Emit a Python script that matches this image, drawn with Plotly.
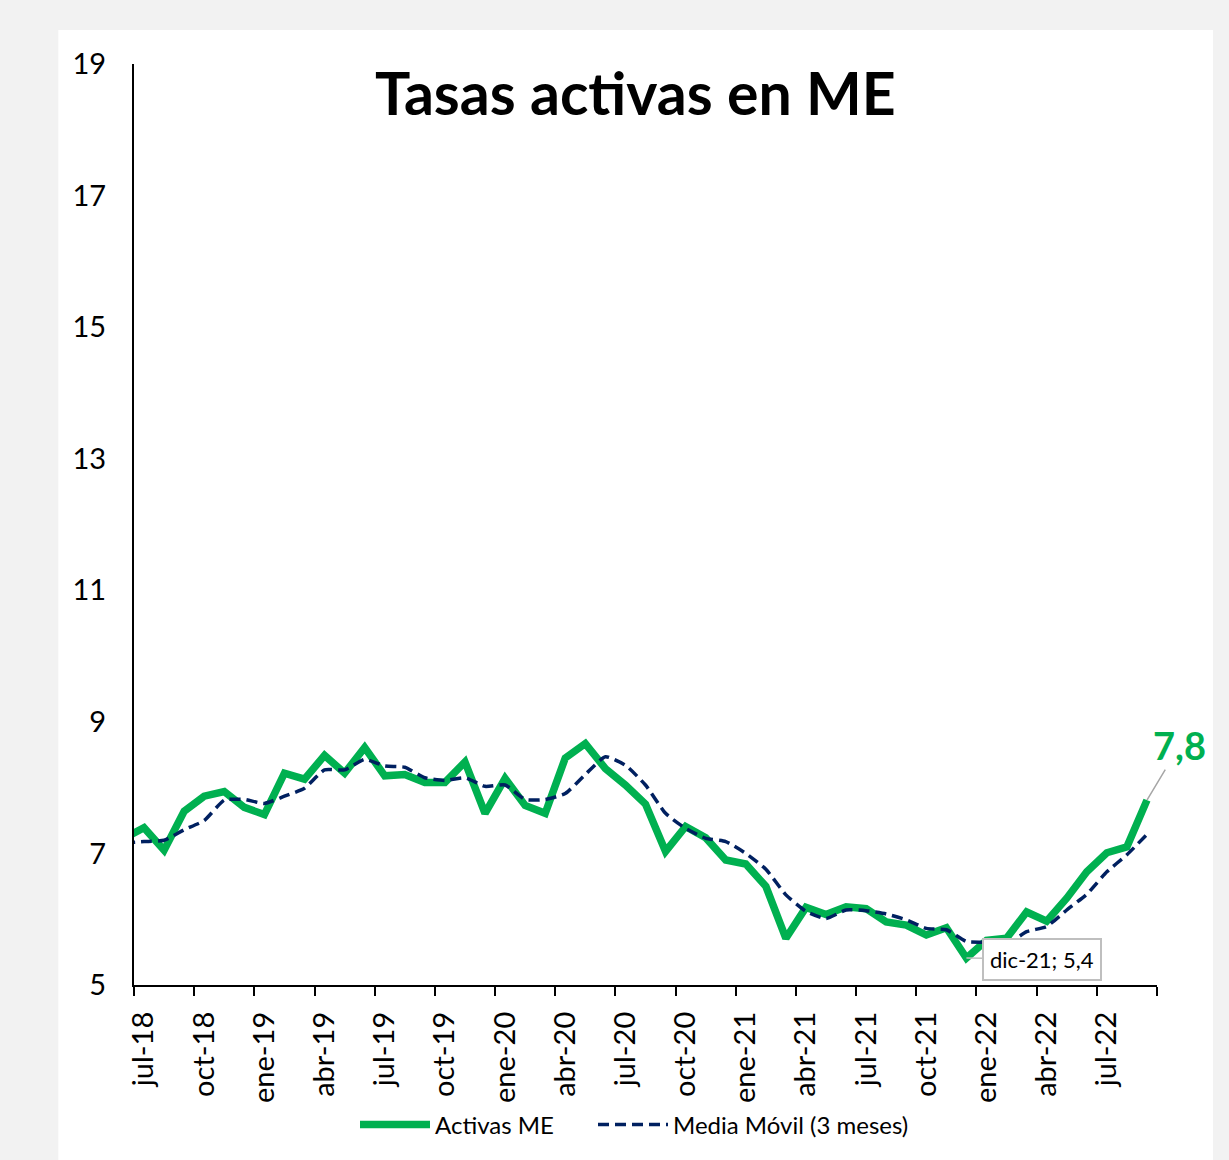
import plotly.graph_objects as go

# ---- data (jun-18 point is only there so the line enters from the axis edge) ----
months = [
    "jun-18",
    "jul-18", "ago-18", "sep-18", "oct-18", "nov-18", "dic-18",
    "ene-19", "feb-19", "mar-19", "abr-19", "may-19", "jun-19", "jul-19", "ago-19", "sep-19", "oct-19", "nov-19", "dic-19",
    "ene-20", "feb-20", "mar-20", "abr-20", "may-20", "jun-20", "jul-20", "ago-20", "sep-20", "oct-20", "nov-20", "dic-20",
    "ene-21", "feb-21", "mar-21", "abr-21", "may-21", "jun-21", "jul-21", "ago-21", "sep-21", "oct-21", "nov-21", "dic-21",
    "ene-22", "feb-22", "mar-22", "abr-22", "may-22", "jun-22", "jul-22", "ago-22", "sep-22",
]
activas_me = [
    7.23,
    7.39, 7.05, 7.64, 7.87, 7.94, 7.70,
    7.59, 8.22, 8.13, 8.49, 8.22, 8.61, 8.18, 8.20, 8.08, 8.08, 8.39, 7.61,
    8.14, 7.73, 7.61, 8.45, 8.67, 8.29, 8.04, 7.75, 7.03, 7.41, 7.24, 6.90,
    6.84, 6.50, 5.71, 6.18, 6.07, 6.19, 6.16, 5.96, 5.91, 5.76, 5.87, 5.41,
    5.68, 5.71, 6.11, 5.97, 6.32, 6.72, 7.01, 7.10, 7.81,
]
media_movil = [
    7.16,
    7.18, 7.20, 7.36, 7.50, 7.81, 7.82,
    7.76, 7.87, 7.99, 8.27, 8.27, 8.43, 8.33, 8.31, 8.15, 8.11, 8.15, 8.02,
    8.04, 7.82, 7.82, 7.91, 8.20, 8.47, 8.34, 8.04, 7.61, 7.38, 7.23, 7.18,
    7.00, 6.76, 6.37, 6.12, 6.01, 6.14, 6.13, 6.08, 5.99, 5.86, 5.84, 5.66,
    5.65, 5.62, 5.81, 5.89, 6.14, 6.38, 6.72, 6.98, 7.29,
]
tick_labels = ["jul-18", "oct-18", "ene-19", "abr-19", "jul-19", "oct-19", "ene-20", "abr-20",
               "jul-20", "oct-20", "ene-21", "abr-21", "jul-21", "oct-21", "ene-22", "abr-22", "jul-22"]
y_ticks = [5, 7, 9, 11, 13, 15, 17, 19]

GREEN = "#00B050"
NAVY = "#002060"
FONT = "Lato"

# month-centre positions: jul-18 centre = 0.5
xpos = [i - 0.5 for i in range(len(months))]
label_pos = [xpos[months.index(m)] for m in tick_labels]
tick_marks = [p - 0.5 for p in label_pos] + [label_pos[-1] + 2.5]
n_end = tick_marks[-1]

fig = go.Figure()
fig.add_trace(go.Scatter(
    x=xpos, y=activas_me, name="Activas ME", mode="lines", legend="legend",
    line=dict(color=GREEN, width=7.5), text=months, hoverinfo="text+y"))
fig.add_trace(go.Scatter(
    x=xpos, y=media_movil, name="Media Móvil (3 meses)", mode="lines", legend="legend2",
    line=dict(color=NAVY, width=3.5, dash="11px,6px", shape="spline", smoothing=0.5),
    text=months, hoverinfo="text+y"))

last_i = len(months) - 1
dic_i = months.index("dic-21")

legend_common = dict(orientation="h", yanchor="middle", y=-0.152, xanchor="left",
                     font=dict(size=24, family=FONT), bgcolor="rgba(0,0,0,0)", itemwidth=70)

fig.update_layout(
    width=1229, height=1160,
    paper_bgcolor="#F2F2F2", plot_bgcolor="white",
    margin=dict(l=134, r=72, t=64, b=173),
    font=dict(family=FONT, color="black"),
    showlegend=True,
    legend=dict(legend_common, x=(355 - 134) / 1023),
    legend2=dict(legend_common, x=(593 - 134) / 1023),
    xaxis=dict(range=[0, n_end], tickmode="array", tickvals=tick_marks, ticktext=[""] * len(tick_marks),
               ticks="outside", ticklen=9, tickwidth=2, tickcolor="black",
               showline=True, linecolor="black", linewidth=2, showgrid=False, zeroline=False),
    xaxis2=dict(range=[0, n_end], overlaying="x", anchor="y", side="bottom", matches="x",
                tickmode="array", tickvals=label_pos, ticktext=tick_labels, tickangle=-90,
                ticks="", showline=False, showgrid=False, zeroline=False,
                tickfont=dict(size=29, family=FONT), ticklabelstandoff=20),
    yaxis=dict(range=[5, 19], tickmode="array", tickvals=y_ticks, ticktext=[str(v) for v in y_ticks],
               showline=True, linecolor="black", linewidth=2, showgrid=False, zeroline=False,
               ticks="", tickfont=dict(size=29, family=FONT), ticklabelstandoff=20),
    shapes=[dict(type="rect", xref="paper", yref="paper", x0=-0.074, x1=1.0547, y0=-0.2, y1=1.0369,
                 fillcolor="white", line=dict(width=0), layer="below")],
    annotations=[
        dict(text="<b>Tasas activas en ME</b>", xref="paper", yref="paper", x=0.49, y=0.969,
             xanchor="center", yanchor="middle", showarrow=False, font=dict(size=59, family=FONT)),
        dict(text="<b>7,8</b>", x=xpos[last_i], y=activas_me[last_i], xref="x", yref="y",
             ax=33, ay=-55, showarrow=True, arrowhead=0, arrowwidth=1.5, arrowcolor="#A6A6A6",
             font=dict(size=38, color=GREEN, family=FONT)),
        dict(text="dic-21; 5,4", x=xpos[dic_i], y=activas_me[dic_i], xref="x", yref="y",
             ax=76, ay=1, showarrow=True, arrowhead=0, arrowwidth=1.5, arrowcolor="#BFBFBF",
             bgcolor="white", bordercolor="#BFBFBF", borderwidth=2, borderpad=6,
             font=dict(size=22, family=FONT)),
    ],
)
# invisible helper trace so the label axis (xaxis2) is rendered
fig.add_trace(go.Scatter(x=[0], y=[5], xaxis="x2", yaxis="y", mode="markers",
                         marker=dict(opacity=0), showlegend=False, hoverinfo="skip"))

fig.write_html("out.html", config={"displayModeBar": False},
               post_script="document.body.style.margin='0';document.body.style.background='#F2F2F2';")
